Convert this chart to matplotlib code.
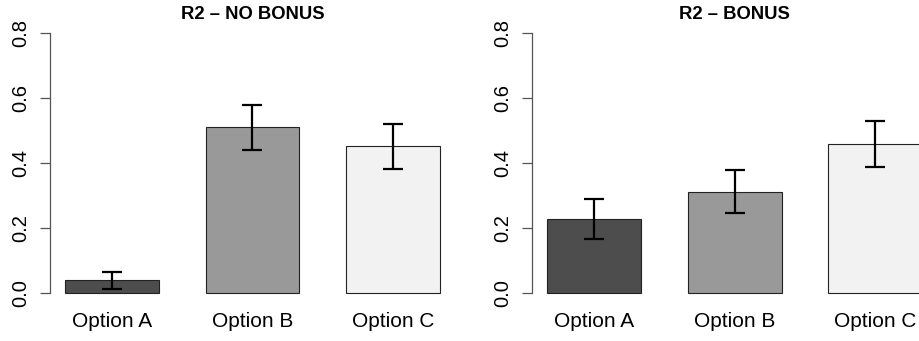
#!/usr/bin/env python3
"""R2 bar chart, no bonus vs bonus, with error bars."""

import matplotlib

matplotlib.use("Agg")
import matplotlib.pyplot as plt
import numpy as np

options = ["Option A", "Option B", "Option C"]
no_bonus_mean = [0.040, 0.510, 0.452]
no_bonus_err = [0.027, 0.070, 0.070]
bonus_mean = [0.229, 0.313, 0.459]
bonus_err = [0.061, 0.067, 0.072]
titles = ["R2 \u2013 NO BONUS", "R2 \u2013 BONUS"]
bar_colors = ["#4D4D4D", "#999999", "#F2F2F2"]
y_ticks = [0.0, 0.2, 0.4, 0.6, 0.8]

plt.rcParams.update(
    {
        "font.family": ["Liberation Sans", "DejaVu Sans"],
        "font.size": 14,
    }
)

W, H = 920, 341


def draw_panel(ax, means, errs, title):
    x = np.arange(len(means)) * 1.5 + 1.0
    ax.bar(x, means, width=1.0, color=bar_colors, edgecolor="#222222", linewidth=0.8, zorder=2)
    ax.errorbar(
        x,
        means,
        yerr=errs,
        fmt="none",
        ecolor="black",
        elinewidth=1.6,
        capsize=7.2,
        capthick=1.6,
        zorder=3,
    )
    ax.set_xlim(0.34, 4.66)
    ax.set_ylim(-0.032, 0.832)
    for side in ["top", "right", "bottom"]:
        ax.spines[side].set_visible(False)
    ax.spines["left"].set_bounds(0.0, 0.8)
    ax.spines["left"].set_color("#555555")
    ax.spines["left"].set_linewidth(0.9)
    ax.set_yticks(y_ticks)
    ax.set_yticklabels([f"{v:.1f}" for v in y_ticks], rotation=90, va="center")
    ax.tick_params(axis="y", length=7, width=0.9, color="#555555", pad=7.5, labelsize=14.5)
    ax.set_xticks(x)
    ax.set_xticklabels(options)
    ax.tick_params(axis="x", length=0, pad=6, labelsize=15)
    ax.set_title(title, fontsize=13.3, fontweight="bold", pad=1.5)


fig = plt.figure(figsize=(W / 100, H / 100), dpi=100)
ax_w = 404.8 / W
ax_b = (H - 303.9) / H
ax_h = 281.3 / H
ax1 = fig.add_axes([50 / W, ax_b, ax_w, ax_h])
ax2 = fig.add_axes([532.3 / W, ax_b, ax_w, ax_h])

draw_panel(ax1, no_bonus_mean, no_bonus_err, titles[0])
draw_panel(ax2, bonus_mean, bonus_err, titles[1])

fig.savefig("out.png", dpi=100)
plt.close(fig)
